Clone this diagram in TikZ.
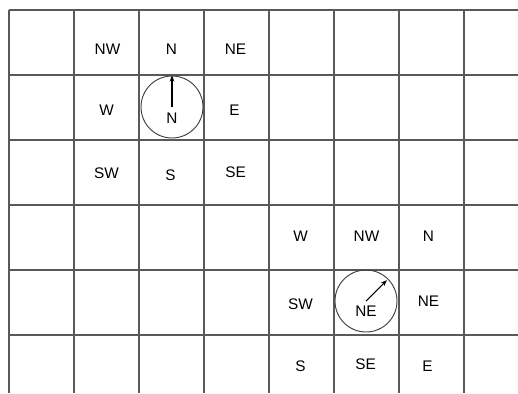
\documentclass[tikz,border=0pt]{standalone}
\usepackage{fontspec}
\setmainfont{Liberation Sans}
\usetikzlibrary{arrows.meta}

\begin{document}
\begin{tikzpicture}[x=0.75pt, y=-0.75pt,
  gridline/.style={draw=black!65, line width=0.9pt},
  lab/.style={font=\fontsize{11.5}{13}\selectfont, inner sep=0pt},
  ring/.style={circle, draw=black!75, line width=0.7pt,
               minimum size=46.5pt, inner sep=0pt},
  dir/.style={-{Stealth[length=4.5pt,width=3.5pt]}, line width=0.8pt}]
\useasboundingbox (0,0) rectangle (518,393);
% grid
\foreach \i in {0,...,7}
  \draw[gridline] (9+65*\i,10) -- (9+65*\i,393);
\foreach \j in {0,...,5}
  \draw[gridline] (9,10+65*\j) -- (518,10+65*\j);
% neighbour labels, upper left group
\foreach \t/\x/\y/\n in {NW/107.5/49/lnw, N/171.5/49/ln, NE/235.5/49/lne,
                         W/106.5/110/lw, E/234.5/110/le,
                         SW/106.5/173/lsw, S/170.5/175/ls, SE/235.5/172/lse}
  \node[lab] (\n) at (\x,\y) {\t};
% neighbour labels, lower right group
\foreach \t/\x/\y/\n in {W/300.5/236/rw, NW/366.5/236/rnw, N/428.5/236/rn,
                         SW/300.5/304/rsw, NE/428.5/301/rne,
                         S/300.5/366/rs, SE/365.5/364/rse, E/427.5/366/re}
  \node[lab] (\n) at (\x,\y) {\t};
% heading circles
\node[ring] (headn) at (172,107) {};
\node[lab] (headntxt) at (172,118) {N};
\draw[dir] (headn.center) -- (headn.north);
\node[ring] (headne) at (366,301) {};
\node[lab] (headnetxt) at (366,311) {NE};
\draw[dir, shorten >=1.5pt] (headne.center) -- (headne.north east);
\end{tikzpicture}
\end{document}
